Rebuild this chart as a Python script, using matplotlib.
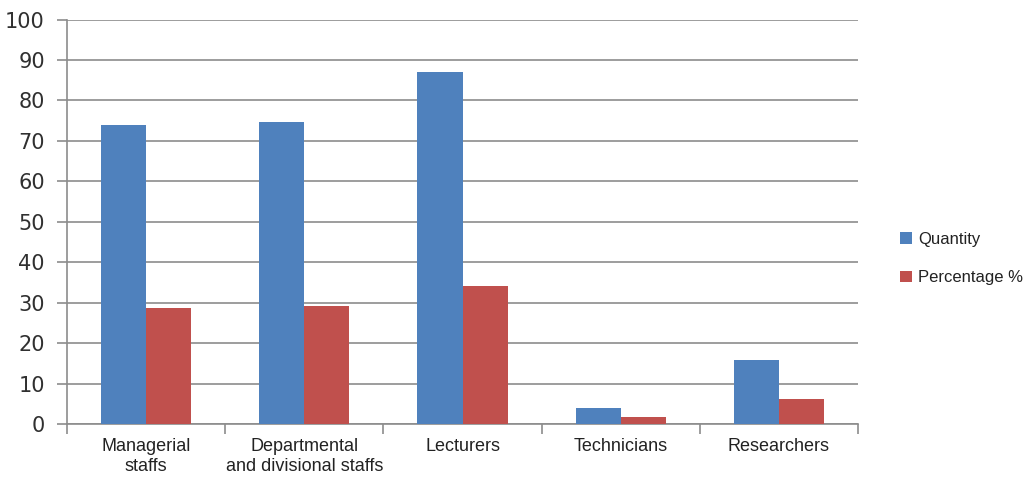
import matplotlib.pyplot as plt
import numpy as np

categories = ["Managerial\nstaffs", "Departmental\nand divisional staffs",
              "Lecturers", "Technicians", "Researchers"]
quantity = [74, 74.6, 87, 4.1, 16]
percentage = [28.8, 29.3, 34.1, 1.9, 6.3]

blue = "#4F81BD"
red = "#C0504D"
grid_grey = "#8C8C8C"
label_font = ["Liberation Sans", "DejaVu Sans"]

fig = plt.figure(figsize=(10.32, 4.79), dpi=100)
ax = fig.add_axes([67 / 1032, 1 - 424.3 / 479, (858 - 67) / 1032, (424.3 - 19.5) / 479])

x = np.arange(len(categories))
w = 0.285
ax.bar(x - w / 2, quantity, w, color=blue, label="Quantity", zorder=3)
ax.bar(x + w / 2, percentage, w, color=red, label="Percentage %", zorder=3)

ax.set_xlim(-0.5, len(categories) - 0.5)
ax.set_ylim(0, 100)
ax.set_yticks(range(0, 101, 10))
ax.yaxis.grid(True, color=grid_grey, linewidth=1.2, zorder=0)

# category labels centred, tick marks on the category boundaries
ax.set_xticks(x)
ax.set_xticklabels(categories, fontsize=13, color="#222222", linespacing=1.2,
                   family=label_font)
ax.tick_params(axis="x", length=0, pad=10)
ax.set_xticks(np.arange(-0.5, len(categories)), minor=True)
ax.tick_params(axis="x", which="minor", length=7, width=1.2, color=grid_grey)
ax.tick_params(axis="y", length=7, width=1.2, color=grid_grey,
               labelsize=15, labelcolor="#303030", pad=9)

for side in ("top", "right"):
    ax.spines[side].set_visible(False)
for side in ("left", "bottom"):
    ax.spines[side].set_color(grid_grey)
    ax.spines[side].set_linewidth(1.2)

fig.legend(loc="center left", bbox_to_anchor=(0.858, 0.46), frameon=False,
           prop={"family": label_font, "size": 12}, handlelength=0.7,
           handleheight=0.7, handletextpad=0.35, labelspacing=1.4,
           labelcolor="#222222")

fig.savefig("out.png", dpi=100)
